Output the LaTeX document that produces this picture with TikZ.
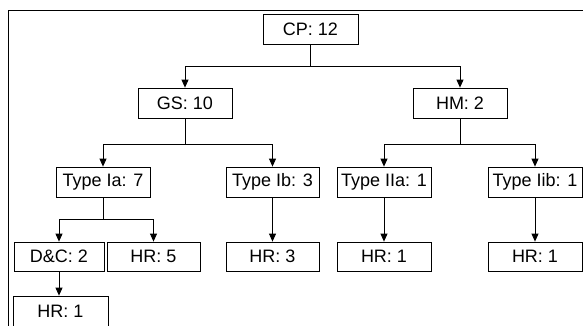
\documentclass[tikz,border=0pt]{standalone}
\usepackage{fontspec}
\setmainfont{Liberation Sans}
\usetikzlibrary{arrows.meta}
\begin{document}
\begin{tikzpicture}[x=1pt,y=-1pt,line width=0.8pt]
        \tikzstyle{every node}=[draw,shape=rectangle,minimum width=94pt,minimum height=30pt,inner sep=0pt,font=\fontsize{18}{20}\selectfont];
        \tikzstyle{arr}=[-{Triangle[length=8pt,width=7pt]}];
        \useasboundingbox (0,0) rectangle (583,325);
        %frame
        \draw (583,10)--(8,10)--(8,330);
        %\node (name) at (x,y) {text};
        \node (cp) at (310.5,29) [minimum width=95pt] {CP: 12};
        \node (gs) at (185,103) {GS: 10};
        \node (hm) at (460,103) {HM: 2};
        \node (ia) at (103,182) {Type Ia: 7};
        \node (ib) at (272.5,182) [minimum width=93pt] {Type Ib: 3};
        \node (iia) at (384,182) {Type IIa: 1};
        \node (iib) at (535,182) {Type Iib: 1};
        \node (dc) at (59,256.5) [minimum width=90pt,minimum height=29pt] {D\&C: 2};
        \node (hrfive) at (153.5,256.5) [minimum width=93pt,minimum height=29pt] {HR: 5};
        \node (hrthree) at (272.5,256.5) [minimum width=93pt,minimum height=29pt] {HR: 3};
        \node (hriia) at (384,256.5) [minimum height=29pt] {HR: 1};
        \node (hriib) at (535,256.5) [minimum height=29pt] {HR: 1};
        \node (hrdc) at (60.5,311) [minimum width=95pt] {HR: 1};
        %bus points
        \coordinate (cpbus) at (310.5,66);
        \coordinate (gsbus) at (185,144);
        \coordinate (hmbus) at (460,144);
        \coordinate (iabus) at (103,219);
        \draw (cp)--(cpbus);
        \draw[arr] (cpbus)-|(gs);
        \draw[arr] (cpbus)-|(hm);
        \draw (gs)--(gsbus);
        \draw[arr] (gsbus)-|(ia);
        \draw[arr] (gsbus)-|(ib);
        \draw (hm)--(hmbus);
        \draw[arr] (hmbus)-|(iia);
        \draw[arr] (hmbus)-|(iib);
        \draw (ia)--(iabus);
        \draw[arr] (iabus)-|(dc);
        \draw[arr] (iabus)-|(hrfive);
        \draw[arr] (ib)--(hrthree);
        \draw[arr] (iia)--(hriia);
        \draw[arr] (iib)--(hriib);
        \draw[arr] (dc)--(dc|-hrdc.north);
    \end{tikzpicture}
\end{document}
